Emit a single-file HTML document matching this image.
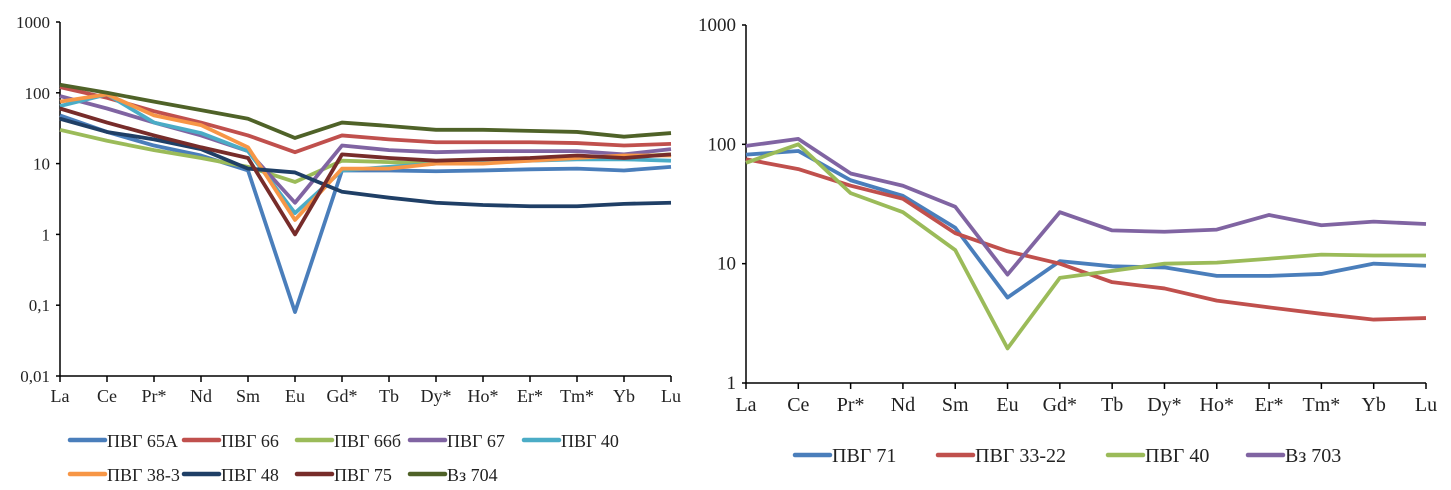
<!DOCTYPE html>
<html><head><meta charset="utf-8"><style>
body{margin:0;background:#fff;}
svg{display:block;font-family:"Liberation Serif",serif;}
</style></head><body>
<svg id="s" width="1451" height="490"></svg>
<script>
const cats=["La","Ce","Pr*","Nd","Sm","Eu","Gd*","Tb","Dy*","Ho*","Er*","Tm*","Yb","Lu"];
const leftNames=["ПВГ 65А","ПВГ 66","ПВГ 66б","ПВГ 67","ПВГ 40","ПВГ 38-3","ПВГ 48","ПВГ 75","Вз 704"];
const leftColors=["#4a7ebb","#c0504d","#9bbb59","#8064a2","#4bacc6","#f79646","#1f3f66","#772c2a","#4f6228"];
const s65A=[48,28,18,13,8,0.08,8,8,7.8,8,8.3,8.5,8,9];
const s66=[120,85,55,38,25,14.5,25,22,20,20,20,19.5,18,19];
const s66b=[30,21,15.5,12,9,5.5,11,10.5,10,11,11.5,12,12.5,13.5];
const s67=[90,60,38,25,15,2.8,18,15.5,14.5,15,15,15,13.5,16];
const s40=[65,95,38,27,15,2,8,9,10,11,11,11.5,11.5,11];
const s383=[75,95,48,35,17,1.6,8.5,8.5,10,10,11,12,13,13];
const s48=[43,28,22,16,8.5,7.5,4,3.3,2.8,2.6,2.5,2.5,2.7,2.8];
const s75=[60,38,25,17,12,1,13.5,12,11,11.5,12,13,12,13.5];
const s704=[130,100,75,57,43,23,38,34,30,30,29,28,24,27];
const leftTicks=["0,01","0,1","1","10","100","1000"];
const rightNames=["ПВГ 71","ПВГ 33-22","ПВГ 40","Вз 703"];
const rightColors=["#4a7ebb","#c0504d","#9bbb59","#8064a2"];
const r71=[82,88,50,37,20,5.2,10.5,9.5,9.3,7.9,7.9,8.2,10,9.6];
const r3322=[75,62,45,35,18,12.7,10,7,6.2,4.9,4.3,3.8,3.4,3.5];
const r40=[70,100,39,27,13,1.95,7.6,8.7,10,10.2,11,11.9,11.7,11.7];
const r703=[97,111,57,45,30,8.1,27,19,18.5,19.3,25.6,21,22.5,21.5];
const rightTicks=["1","10","100","1000"];

const NS="http://www.w3.org/2000/svg";
const svg=document.getElementById('s');
function el(t,a,p){const e=document.createElementNS(NS,t);for(const k in a)e.setAttribute(k,a[k]);(p||svg).appendChild(e);return e;}

function chart(o){
  const g=el('g',{});
  
  
  const n=cats.length;
  const xs=i=>o.x0+(o.x1-o.x0)*i/(n-1);
  const lmin=Math.log10(o.min),lmax=Math.log10(o.max);
  const ys=v=>o.yb-(Math.log10(v)-lmin)/(lmax-lmin)*(o.yb-o.yt);
  const ya=el('line',{x1:o.x0,y1:o.yt,x2:o.x0,y2:o.yb,stroke:'#000','stroke-width':1.5},g);
  
  const xa=el('line',{x1:o.x0,y1:o.yb,x2:o.x1,y2:o.yb,stroke:'#000','stroke-width':1.5},g);
  
  o.ticks.forEach((t,i)=>{
    const v=o.min*Math.pow(10,i);const y=ys(v);
    el('line',{x1:o.x0-4,y1:y,x2:o.x0,y2:y,stroke:'#000','stroke-width':1.5},g);
    const tx=el('text',{x:o.x0-10,y:y+6,'text-anchor':'end','font-size':o.fs,fill:'#222'},g);
    tx.textContent=t;
    
  });
  cats.forEach((c,i)=>{
    const x=xs(i);
    el('line',{x1:x,y1:o.yb,x2:x,y2:o.yb+6,stroke:'#000','stroke-width':1.5},g);
    const tx=el('text',{x:x,y:o.yb+o.fs+9,'text-anchor':'middle','font-size':o.fs+1,fill:'#222'},g);
    tx.textContent=c;
    
  });
  o.series.forEach((d,k)=>{
    const p=el('polyline',{points:d.map((v,i)=>xs(i)+','+ys(v)).join(' '),fill:'none',stroke:o.colors[k],'stroke-width':3.8,'stroke-linejoin':'round'},g);
    
  });
  o.legend.forEach((L,k)=>{
    const lg=el('g',{},g);
    
    
    el('line',{x1:L[0],y1:L[1],x2:L[0]+35,y2:L[1],stroke:o.colors[k],'stroke-width':4.5,'stroke-linecap':'round'},lg);
    const t=el('text',{x:L[0]+37,y:L[1]+7,'font-size':o.fs+1,fill:'#222'},lg);
    t.textContent=o.names[k];
  });
}
chart({name:'left-chart',x0:60,x1:671,yt:22,yb:376,min:0.01,max:1000,ticks:leftTicks,fs:17,
  series:[s65A,s66,s66b,s67,s40,s383,s48,s75,s704],colors:leftColors,names:leftNames,
  legend:[[70,440],[184,440],[297,440],[410,440],[524,440],[70,474],[184,474],[297,474],[410,474]]});
chart({name:'right-chart',x0:746,x1:1426,yt:25,yb:383,min:1,max:1000,ticks:rightTicks,fs:19,
  series:[r71,r3322,r40,r703],colors:rightColors,names:rightNames,
  legend:[[795,455],[938,455],[1108,455],[1248,455]]});
</script>
</body></html>
